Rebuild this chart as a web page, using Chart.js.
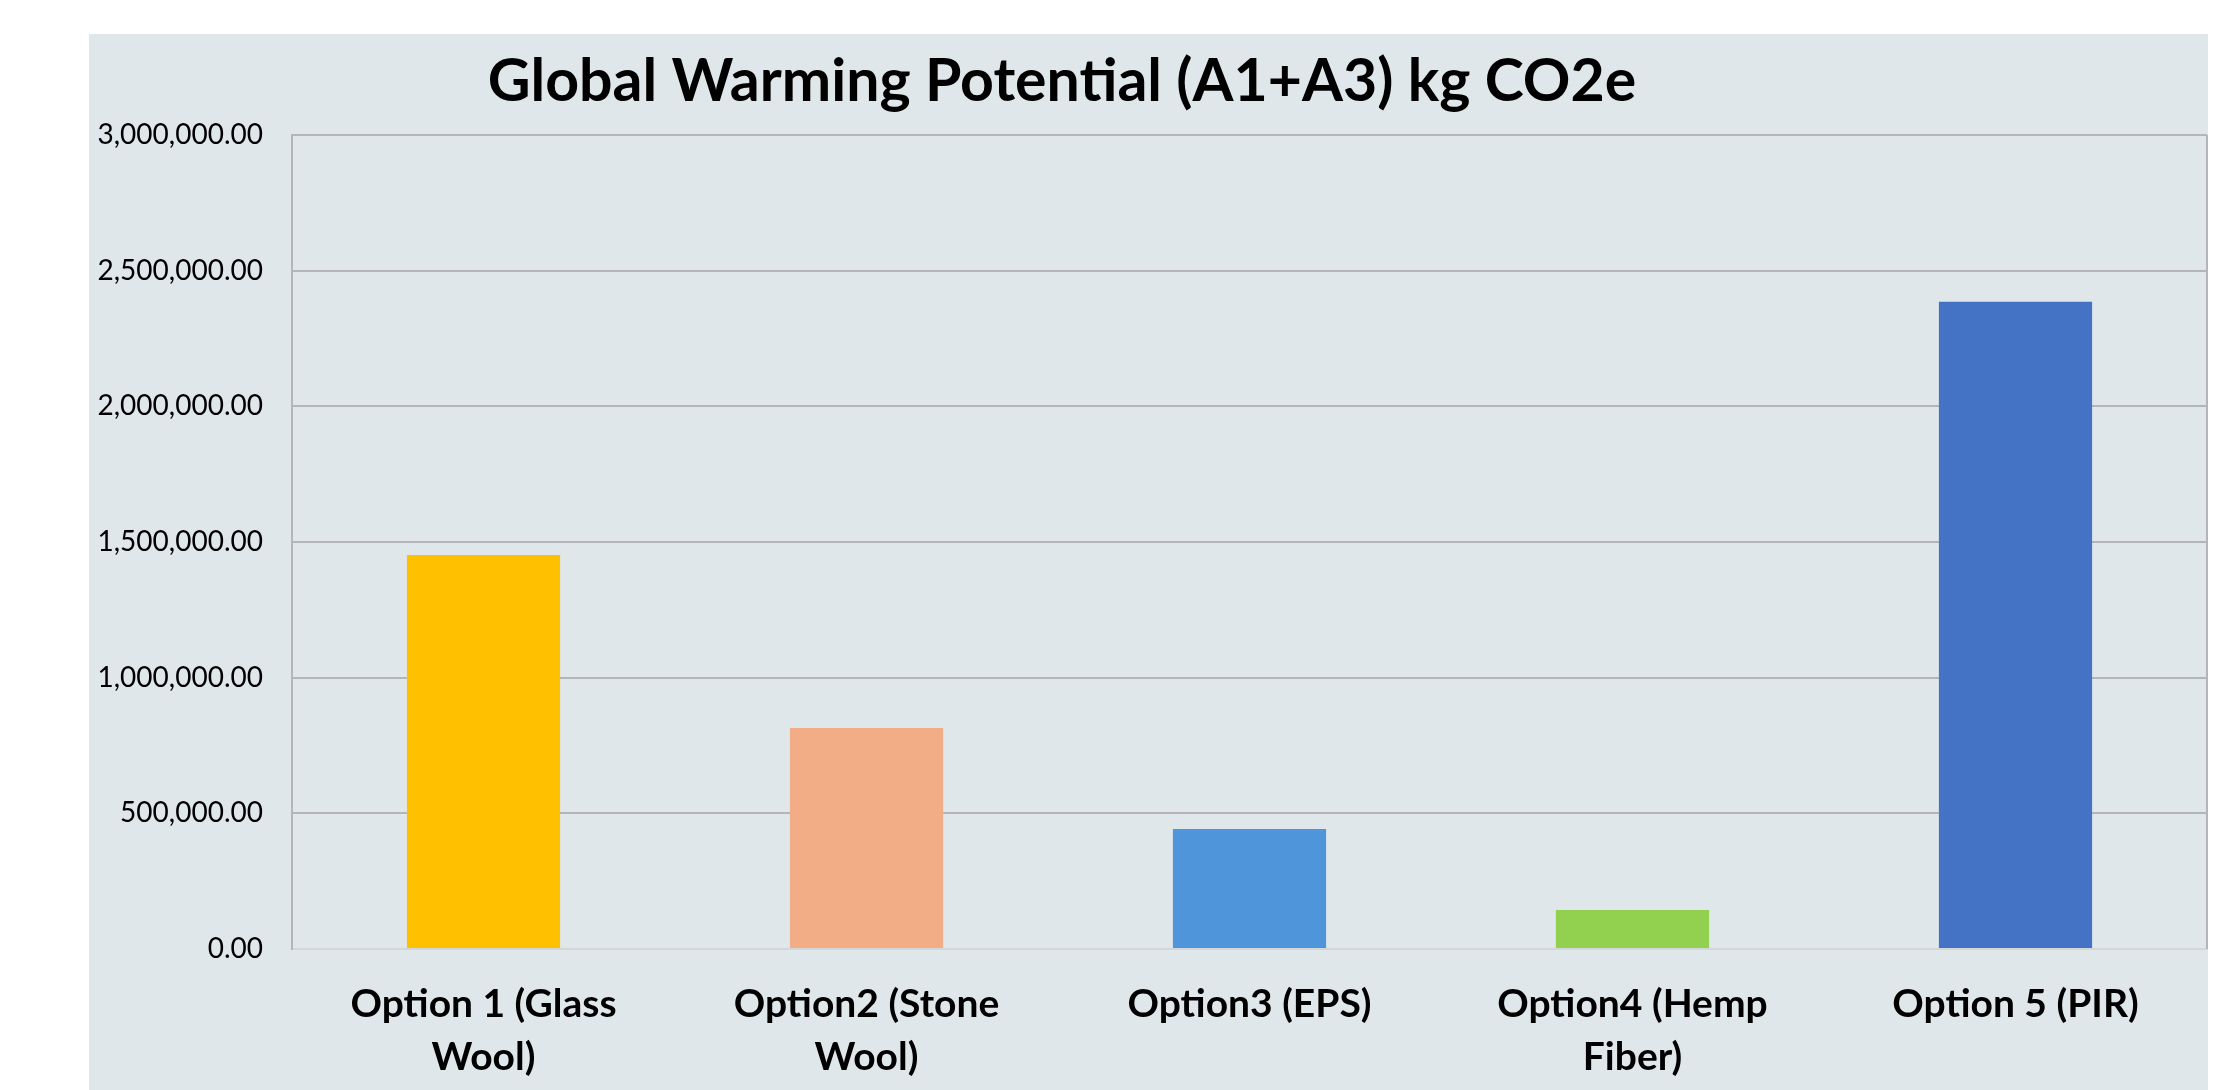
<!DOCTYPE html>
<html>
<head>
<meta charset="utf-8">
<title>Global Warming Potential (A1+A3) kg CO2e</title>
<script src="https://cdn.jsdelivr.net/npm/chart.js@4/dist/chart.umd.min.js"></script>
<style>
  html, body { margin: 0; padding: 0; background: #ffffff; width: 2224px; height: 1090px; overflow: hidden; }
  #panel { position: absolute; left: 89px; top: 34px; width: 2119px; height: 1056px; background: #e0e7eb; }
  canvas { display: block; }
</style>
</head>
<body>
<div id="panel"><canvas id="gwp" width="2119" height="1056"></canvas></div>
<script>
// Insulation options compared
const categories = [
  ['Option 1 (Glass', 'Wool)'],
  ['Option2 (Stone', 'Wool)'],
  ['Option3 (EPS)'],
  ['Option4 (Hemp', 'Fiber)'],
  ['Option 5 (PIR)']
];
// Embodied carbon, stages A1-A3, in kg CO2e
const gwpValues = [1452000, 814500, 442000, 144000, 2385000];
const barColors = ['#ffc000', '#f2ad86', '#4f95da', '#92d050', '#4472c4'];
const yTickValues = [0, 500000, 1000000, 1500000, 2000000, 2500000, 3000000];
const chartTitle = 'Global Warming Potential (A1+A3) kg CO2e';

const FONT = "Lato, Calibri, 'Open Sans', sans-serif";
const fmt = new Intl.NumberFormat('en-US', { minimumFractionDigits: 2, maximumFractionDigits: 2 });

// Title sits left of centre, as placed in the original workbook chart
const titlePlugin = {
  id: 'offsetTitle',
  afterDraw(chart) {
    const ctx = chart.ctx;
    ctx.save();
    ctx.font = 'bold 59px ' + FONT;
    ctx.fillStyle = '#000000';
    ctx.textAlign = 'center';
    ctx.textBaseline = 'alphabetic';
    ctx.fillText(chartTitle, 973, 67);
    ctx.restore();
  }
};

// Thin frame on the right side of the plot area
const framePlugin = {
  id: 'plotFrame',
  beforeDatasetsDraw(chart) {
    const { ctx, chartArea: a } = chart;
    ctx.save();
    ctx.strokeStyle = '#b3b5b7';
    ctx.lineWidth = 2;
    ctx.beginPath();
    ctx.moveTo(a.right, a.top);
    ctx.lineTo(a.right, a.bottom);
    ctx.stroke();
    ctx.restore();
  }
};

new Chart(document.getElementById('gwp'), {
  type: 'bar',
  data: {
    labels: categories,
    datasets: [{
      data: gwpValues,
      backgroundColor: barColors,
      borderWidth: 0,
      categoryPercentage: 1.0,
      barPercentage: 0.4
    }]
  },
  options: {
    responsive: false,
    devicePixelRatio: 1,
    animation: false,
    layout: { padding: { top: 101, right: 1, left: 0, bottom: 0 } },
    plugins: {
      legend: { display: false },
      title: { display: false },
      tooltip: { enabled: false }
    },
    scales: {
      x: {
        grid: { display: false, drawTicks: false },
        border: { display: true, color: '#d4d7d9', width: 2 },
        ticks: {
          color: '#000000',
          font: { family: FONT, size: 39, weight: 'bold', lineHeight: 1.35 },
          padding: 29,
          maxRotation: 0,
          autoSkip: false
        },
        afterFit(scale) { scale.height = 141; }
      },
      y: {
        min: 0,
        max: 3000000,
        afterBuildTicks(scale) { scale.ticks = yTickValues.map(v => ({ value: v })); },
        grid: {
          drawTicks: false,
          lineWidth: 2,
          color: (c) => (c.tick && c.tick.value === 0) ? 'rgba(0,0,0,0)' : '#b3b5b7'
        },
        border: { display: true, color: '#b3b5b7', width: 2 },
        ticks: {
          color: '#000000',
          font: { family: FONT, size: 28 },
          padding: 29,
          callback: (v) => fmt.format(v)
        },
        afterFit(scale) { scale.width = 203; }
      }
    }
  },
  plugins: [titlePlugin, framePlugin]
});
</script>
</body>
</html>
